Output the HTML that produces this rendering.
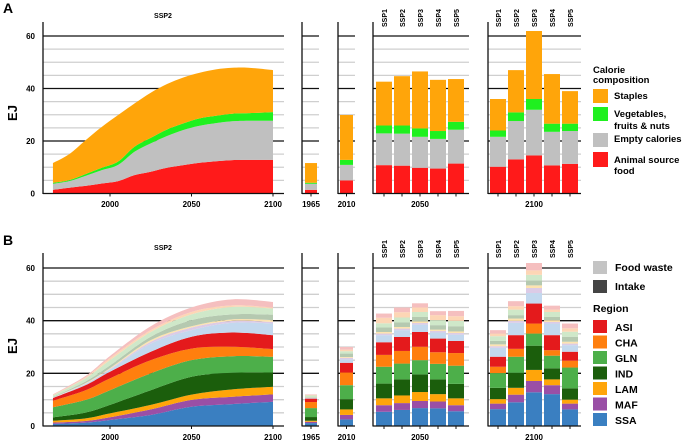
<!DOCTYPE html>
<html><head><meta charset="utf-8"><style>
html,body{margin:0;padding:0;background:#fff;}
svg{display:block;font-family:"Liberation Sans",sans-serif;font-weight:bold;}
</style></head><body>
<svg id="chart" width="685" height="443" viewBox="0 0 685 443">
<text x="3" y="13" font-size="14">A</text>
<text x="3" y="245" font-size="14">B</text>
<text x="163" y="18" font-size="7" text-anchor="middle">SSP2</text>
<text x="163" y="250" font-size="7" text-anchor="middle">SSP2</text>
<text transform="translate(17,113) rotate(-90)" font-size="13" text-anchor="middle">EJ</text>
<text transform="translate(17,346) rotate(-90)" font-size="13" text-anchor="middle">EJ</text>
<g font-size="9.5">
<text x="593" y="73">Calorie</text>
<text x="593" y="83">composition</text>
<rect x="593" y="89" width="15" height="14" fill="#ffa50a"/>
<text x="614" y="99">Staples</text>
<rect x="593" y="107" width="15" height="14" fill="#1ff01f"/>
<text x="614" y="117">Vegetables,</text>
<text x="614" y="129">fruits &amp; nuts</text>
<rect x="593" y="133" width="15" height="14" fill="#c0c0c0"/>
<text x="614" y="142">Empty calories</text>
<rect x="593" y="152" width="15" height="15" fill="#ff1a1a"/>
<text x="614" y="163">Animal source</text>
<text x="614" y="174">food</text>
</g>
<g font-size="10.5">
<rect x="593" y="261" width="14" height="13" fill="#c4c4c4"/>
<text x="615" y="271">Food waste</text>
<rect x="593" y="280" width="14" height="13" fill="#444"/>
<text x="615" y="290">Intake</text>
<text x="593" y="312">Region</text>
</g>
</svg>
<script>
const NS="http://www.w3.org/2000/svg";
const svg=document.getElementById('chart');
function el(tag,attrs,parent){const e=document.createElementNS(NS,tag);for(const k in attrs)e.setAttribute(k,attrs[k]);(parent||svg).appendChild(e);return e;}

// ---------- data ----------
const compCats=["Animal source food","Empty calories","Vegetables, fruits & nuts","Staples"];
const compColors=["#ff1a1a","#c0c0c0","#1ff01f","#ffa50a"];
const areaYearsA=[1965,1975,1985,1995,2005,2015,2025,2035,2045,2055,2065,2075,2085,2100];
const animalCumA=[1.4,2.2,2.9,3.8,4.7,7.0,8.3,9.8,10.8,11.7,12.3,12.7,12.8,12.8];
const emptyCumA=[3.7,4.7,6.7,8.9,10.9,15.9,19.1,21.9,24.2,25.8,26.8,27.5,27.7,27.7];
const vegCumA=[4.1,5.1,7.4,9.8,12.2,17.8,21.2,24.4,26.7,28.6,29.6,30.4,30.6,31.0];
const staplesCumA=[11.6,15,20.3,25.4,29.9,34.3,38.4,41.7,44.2,46.0,47.3,47.9,47.9,47.0];
const bar1965A=[1.4,3.7,4.1,11.6];
const bar2010A=[5.0,10.9,12.8,29.9];
const bars2050A=[[10.8,22.9,25.9,42.6],[10.6,22.8,25.9,44.7],[9.8,21.6,24.8,46.5],[9.5,20.8,23.8,43.3],[11.4,24.3,27.3,43.6]];
const bars2100A=[[10.2,21.6,24.0,36.0],[13.0,27.6,30.9,47.0],[14.5,31.9,36.0,61.9],[10.7,23.5,26.6,45.5],[11.3,23.8,26.6,39.0]];
const ssps=["SSP1","SSP2","SSP3","SSP4","SSP5"];

const regions=["SSA","MAF","LAM","IND","GLN","CHA","ASI"];
const regionColors=["#3a7fc1","#9a4fa6","#ffa50a","#1b5e0c","#4daf4a","#ff7f0e","#e41a1c"];
const wasteColors=["#c3d8ee","#dccbe6","#fde3b0","#b5c9b0","#cfe8c9","#fdd6b5","#f5bfbf"];
const areaYearsB=[1965,1985,2000,2025,2050,2075,2100];
const areaCumB=[
 [0.8,1.3,2.0,3.3,7.1,9.6,10.6,10.7,10.75,10.8,11.0,11.6,11.8,12.0],
 [1.3,1.9,2.9,5.1,9.9,13.6,15.5,15.9,16.1,16.3,16.9,18.1,18.5,19.0],
 [2.3,3.3,4.8,8.0,13.6,18.1,20.6,21.4,21.7,22.0,23.0,25.0,25.8,26.6],
 [4.2,6.3,8.0,13.6,20,25,28.2,31.3,32.0,32.6,33.9,35.7,36.4,37.9],
 [7.3,9.9,11.9,18.7,25,29.4,33.9,36.4,37.4,37.9,40.2,42.4,43.3,45],
 [8.3,11.1,13.9,20.2,26.5,30.1,35.5,39.2,39.9,40.5,42.4,45.2,45.8,48.1],
 [9.2,12.0,14.9,20.3,26.3,29.2,34.5,38.9,39.5,40.2,42.3,44.6,45.0,47.1]];
const bar1965B=[1.1,1.6,2,3.4,6.8,9.1,10.4,10.6,10.7,10.8,11.0,11.6,11.8,12.0];
const bar2010B=[2.5,4.2,6.3,10.2,15.5,20.3,24.0,25.3,25.9,26.2,27.5,28.4,29.0,30.0];
const bars2050B=[
 [5.4,7.9,10.5,16.1,22.5,27,31.8,34.5,35.1,35.7,37.4,39.0,41.1,42.7],
 [6.1,8.7,11.6,17.7,23.7,28.5,33.8,36.4,37.0,37.6,39.3,41.2,43.2,45.0],
 [6.8,9.5,12.9,19.6,25,30.1,35.7,38.5,39.1,39.7,41.4,43.3,45.0,46.6],
 [6.7,9.3,12.1,17.7,23.6,28,33.2,35.5,36.1,36.6,38.3,40.2,42.1,43.6],
 [5.6,7.9,10.5,16.0,22.9,27.7,32.3,34.7,35.3,35.9,37.9,39.9,41.7,43.7]];
const bars2100B=[
 [6.4,8.5,10.2,14.5,20.1,22.5,26.3,29.7,30.3,31.0,32.3,34.1,35.1,36.4],
 [9.0,11.9,14.5,20.2,26.3,29.3,34.5,39.2,39.9,40.8,42.1,44.2,45.5,47.4],
 [12.8,17.1,21.3,30.5,35.1,38.9,46.5,50.5,52.4,53.4,55.3,57.4,59.1,61.9],
 [12.1,15.5,17.7,21.9,26.7,28.8,34.5,38.9,39.5,40.2,41.4,43.3,44.2,45.7],
 [6.3,8.5,10.0,14.3,22.2,24.8,28.2,30.7,31.3,32.0,33.9,35.8,37.1,38.9]];
const yTicks=[0,20,40,60];

// ---------- scales ----------
const rows={A:{y0:193.5,y60:36,top:22,lab:207,ssp:27},B:{y0:426,y60:268,top:253,lab:440,ssp:258}};
function yS(r,v){return r.y0+(r.y60-r.y0)*v/60;}
function xYear(yr){return 110+(yr-2000)*81.5/50;}
const panels=[{x0:43,x1:284},{x0:302,x1:319},{x0:338,x1:355},{x0:373,x1:469},{x0:488,x1:581}];

function smooth(pts,cont){
 let d=(cont?"L":"M")+pts[0][0].toFixed(2)+","+pts[0][1].toFixed(2);
 for(let i=0;i<pts.length-1;i++){
  const p0=pts[i-1]||pts[i],p1=pts[i],p2=pts[i+1],p3=pts[i+2]||p2;
  const c1=[p1[0]+(p2[0]-p0[0])/6,p1[1]+(p2[1]-p0[1])/6];
  const c2=[p2[0]-(p3[0]-p1[0])/6,p2[1]-(p3[1]-p1[1])/6];
  d+=` C${c1[0].toFixed(2)},${c1[1].toFixed(2)} ${c2[0].toFixed(2)},${c2[1].toFixed(2)} ${p2[0].toFixed(2)},${p2[1].toFixed(2)}`;
 }
 return d;
}

function grid(r,key){
 panels.forEach((p,pi)=>{
  for(let v=5;v<=60;v+=5){
   const major=v%20===0;
   const l=el('line',{x1:p.x0,x2:p.x1,y1:yS(r,v),y2:yS(r,v),stroke:major?'#111':'#cfcfcf','stroke-width':1.3});
   
   
  }
 });
}
function axes(r,key){
 panels.forEach((p,pi)=>{
  const a=el('line',{x1:p.x0,x2:p.x0,y1:r.top,y2:r.y0+0.5,stroke:'#111','stroke-width':1.3});
  
  
  const b=el('line',{x1:p.x0,x2:p.x1,y1:r.y0,y2:r.y0,stroke:'#111','stroke-width':1.3});
  
  
 });
 yTicks.forEach(v=>{
  const t=el('text',{x:35,y:yS(r,v)+3,'font-size':8,'text-anchor':'end'});
  t.textContent=v;
  
  
 });
}
function tick(r,x){
 const t=el('line',{x1:x,x2:x,y1:r.y0,y2:r.y0+3,stroke:'#111','stroke-width':1});
 
 
}
function xlabel(r,x,txt){
 const t=el('text',{x:x,y:r.lab,'font-size':8,'text-anchor':'middle'});
 t.textContent=txt;
 
 
}
function sspLabel(r,x,txt){
 const t=el('text',{transform:`translate(${x+3},${r.ssp}) rotate(-90)`,'font-size':7});
 t.textContent=txt;
 
 
}
function area(r,years,lower,upper,color,name){
 const top=years.map((y,i)=>[xYear(y),yS(r,upper[i])]);
 const bot=years.map((y,i)=>[xYear(y),yS(r,lower?lower[i]:0)]).reverse();
 const p=el('path',{d:smooth(top,false)+" "+smooth(bot,true)+" Z",fill:color});
 
 
}
function stackBar(r,cx,w,cum,colors,name){
 cum.forEach((v,i)=>{
  const lo=i?cum[i-1]:0;
  const rc=el('rect',{x:cx-w/2,y:yS(r,v),width:w,height:Math.max(0,yS(r,lo)-yS(r,v)),fill:colors[i]});
  
  
 });
}

// ---------- Panel A ----------
const RA=rows.A;
grid(RA,'A');
const cumsA=[animalCumA,emptyCumA,vegCumA,staplesCumA];
const areaNamesA=['area-animal','area-empty','area-veg','area-staples'];
cumsA.forEach((c,k)=>area(RA,areaYearsA,k?cumsA[k-1]:null,c,compColors[k],areaNamesA[k]));
stackBar(RA,311,12,bar1965A,compColors,'bar-a-1965');
stackBar(RA,346.5,13,bar2010A,compColors,'bar-a-2010');
bars2050A.forEach((b,i)=>stackBar(RA,384+18*i,16,b,compColors,'bar-a-2050-'+ssps[i]));
bars2100A.forEach((b,i)=>stackBar(RA,498+18*i,16,b,compColors,'bar-a-2100-'+ssps[i]));
axes(RA,'A');

// ---------- Panel B ----------
const RB=rows.B;
grid(RB,'B');
const colorsB=regionColors.concat(wasteColors);
for(let k=0;k<14;k++){
 const upper=areaCumB.map(row=>row[k]);
 const lower=k?areaCumB.map(row=>row[k-1]):null;
 area(RB,areaYearsB,lower,upper,colorsB[k],(k<7?'area-intake-':'area-waste-')+regions[k%7]);
}
stackBar(RB,311,12,bar1965B,colorsB,'bar-b-1965');
stackBar(RB,346.5,13,bar2010B,colorsB,'bar-b-2010');
bars2050B.forEach((b,i)=>stackBar(RB,384+18*i,16,b,colorsB,'bar-b-2050-'+ssps[i]));
bars2100B.forEach((b,i)=>stackBar(RB,498+18*i,16,b,colorsB,'bar-b-2100-'+ssps[i]));
axes(RB,'B');

// ---------- ticks & labels ----------
[RA,RB].forEach(r=>{
 [2000,2050,2100].forEach(y=>{tick(r,xYear(y));xlabel(r,xYear(y),String(y));});
 tick(r,311);xlabel(r,311,'1965');
 tick(r,346.5);xlabel(r,346.5,'2010');
 ssps.forEach((s,i)=>{tick(r,384+18*i);sspLabel(r,384+18*i,s);tick(r,498+18*i);sspLabel(r,498+18*i,s);});
 xlabel(r,420,'2050');xlabel(r,534,'2100');
});

// ---------- region legend ----------
const legendOrder=["ASI","CHA","GLN","IND","LAM","MAF","SSA"];
legendOrder.forEach((rg,i)=>{
 const y=320+15.5*i;
 const s=el('rect',{x:593,y:y,width:14,height:13,fill:regionColors[regions.indexOf(rg)]});
 
 
 const t=el('text',{x:615,y:y+11,'font-size':10.5});
 t.textContent=rg;
 
 
});
</script>
</body></html>
